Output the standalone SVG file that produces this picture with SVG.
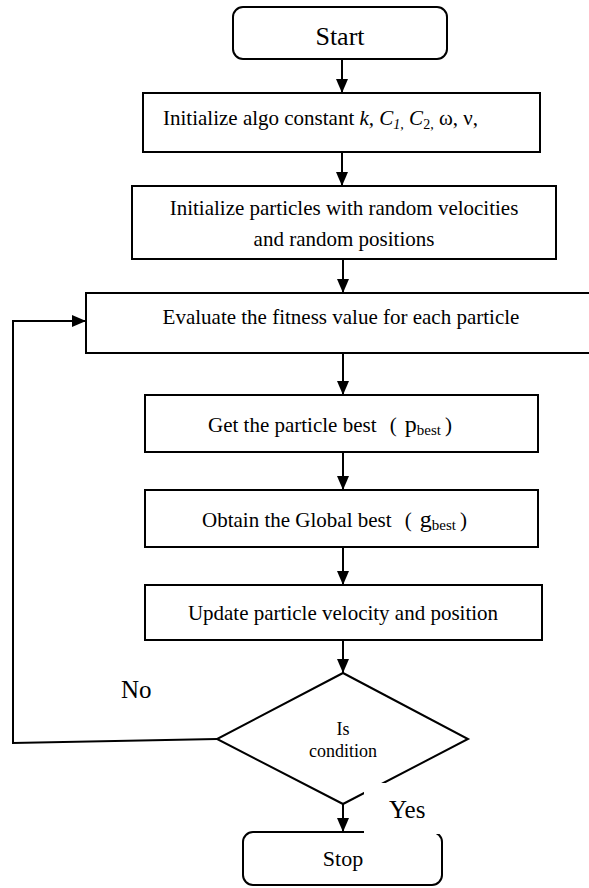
<svg xmlns="http://www.w3.org/2000/svg" width="589" height="888" viewBox="0 0 589 888">
<defs>
<marker id="ah" markerUnits="userSpaceOnUse" markerWidth="14" markerHeight="14" viewBox="0 0 14 14" refX="14" refY="7" orient="auto">
<path d="M0,1 L14,7 L0,13 z" fill="#000"/>
</marker>
<style>
.box{fill:#fff;stroke:#000;stroke-width:2}
.ln{fill:none;stroke:#000;stroke-width:2}
.t{font-family:"Liberation Serif","Times New Roman",serif;fill:#000}
</style>
</defs>
<g id="connectors">
<line class="ln" x1="342" y1="59" x2="342" y2="93" marker-end="url(#ah)"/>
<line class="ln" x1="342" y1="152" x2="342" y2="186" marker-end="url(#ah)"/>
<line class="ln" x1="343" y1="259" x2="343" y2="293" marker-end="url(#ah)"/>
<line class="ln" x1="343" y1="353" x2="343" y2="395" marker-end="url(#ah)"/>
<line class="ln" x1="343" y1="452" x2="343" y2="490" marker-end="url(#ah)"/>
<line class="ln" x1="343" y1="547" x2="343" y2="585" marker-end="url(#ah)"/>
<line class="ln" x1="343" y1="640" x2="343" y2="673" marker-end="url(#ah)"/>
<line class="ln" x1="343" y1="804" x2="343" y2="832" marker-end="url(#ah)"/>
<polyline class="ln" points="217,739 13,743 13,321 86,321" marker-end="url(#ah)"/>
</g>
<g id="start">
<rect class="box" x="233" y="7" width="214" height="52" rx="10"/>
<text class="t" x="340" y="45" text-anchor="middle" font-size="26">Start</text>
</g>
<g id="init-constants">
<rect class="box" x="143" y="93" width="397" height="59"/>
<text class="t" x="163" y="125" font-size="21">Initialize algo constant <tspan font-style="italic">k, C</tspan><tspan font-style="italic" font-size="14" dy="4">1,</tspan><tspan font-style="italic" dy="-4"> C</tspan><tspan font-size="14" dy="4">2,</tspan><tspan dy="-4"> ω, ν,</tspan></text>
</g>
<g id="init-particles">
<rect class="box" x="132" y="186" width="424" height="73"/>
<text class="t" x="344" y="215" text-anchor="middle" font-size="21">Initialize particles with random velocities</text>
<text class="t" x="344" y="246" text-anchor="middle" font-size="21">and random positions</text>
</g>
<g id="evaluate">
<rect class="box" x="86" y="293" width="530" height="60"/>
<text class="t" x="341" y="324" text-anchor="middle" font-size="21">Evaluate the fitness value for each particle</text>
</g>
<g id="pbest">
<rect class="box" x="145" y="395" width="393" height="57"/>
<text class="t" x="208" y="432" font-size="21">Get the particle best <tspan dx="8">(</tspan><tspan font-size="24" dx="8">p</tspan><tspan font-size="15" dy="3">best</tspan><tspan dy="-3" dx="4">)</tspan></text>
</g>
<g id="gbest">
<rect class="box" x="145" y="490" width="393" height="57"/>
<text class="t" x="202" y="527" font-size="21">Obtain the Global best <tspan dx="8">(</tspan><tspan font-size="24" dx="8">g</tspan><tspan font-size="15" dy="3">best</tspan><tspan dy="-3" dx="4">)</tspan></text>
</g>
<g id="update">
<rect class="box" x="145" y="585" width="397" height="55"/>
<text class="t" x="343" y="620" text-anchor="middle" font-size="21">Update particle velocity and position</text>
</g>
<g id="decision">
<polygon class="box" points="343,673 468,739 343,804 217,739"/>
<text class="t" x="343" y="735" text-anchor="middle" font-size="18">Is</text>
<text class="t" x="343" y="757" text-anchor="middle" font-size="18">condition</text>
</g>
<g id="stop">
<rect class="box" x="243" y="832" width="199" height="53" rx="10"/>
<text class="t" x="343" y="866" text-anchor="middle" font-size="22">Stop</text>
</g>
<g id="labels">
<text class="t" x="121" y="698" font-size="25">No</text>
<rect x="364" y="783" width="82" height="51" fill="#fff"/>
<text class="t" x="389" y="818" font-size="25">Yes</text>
</g>
</svg>
